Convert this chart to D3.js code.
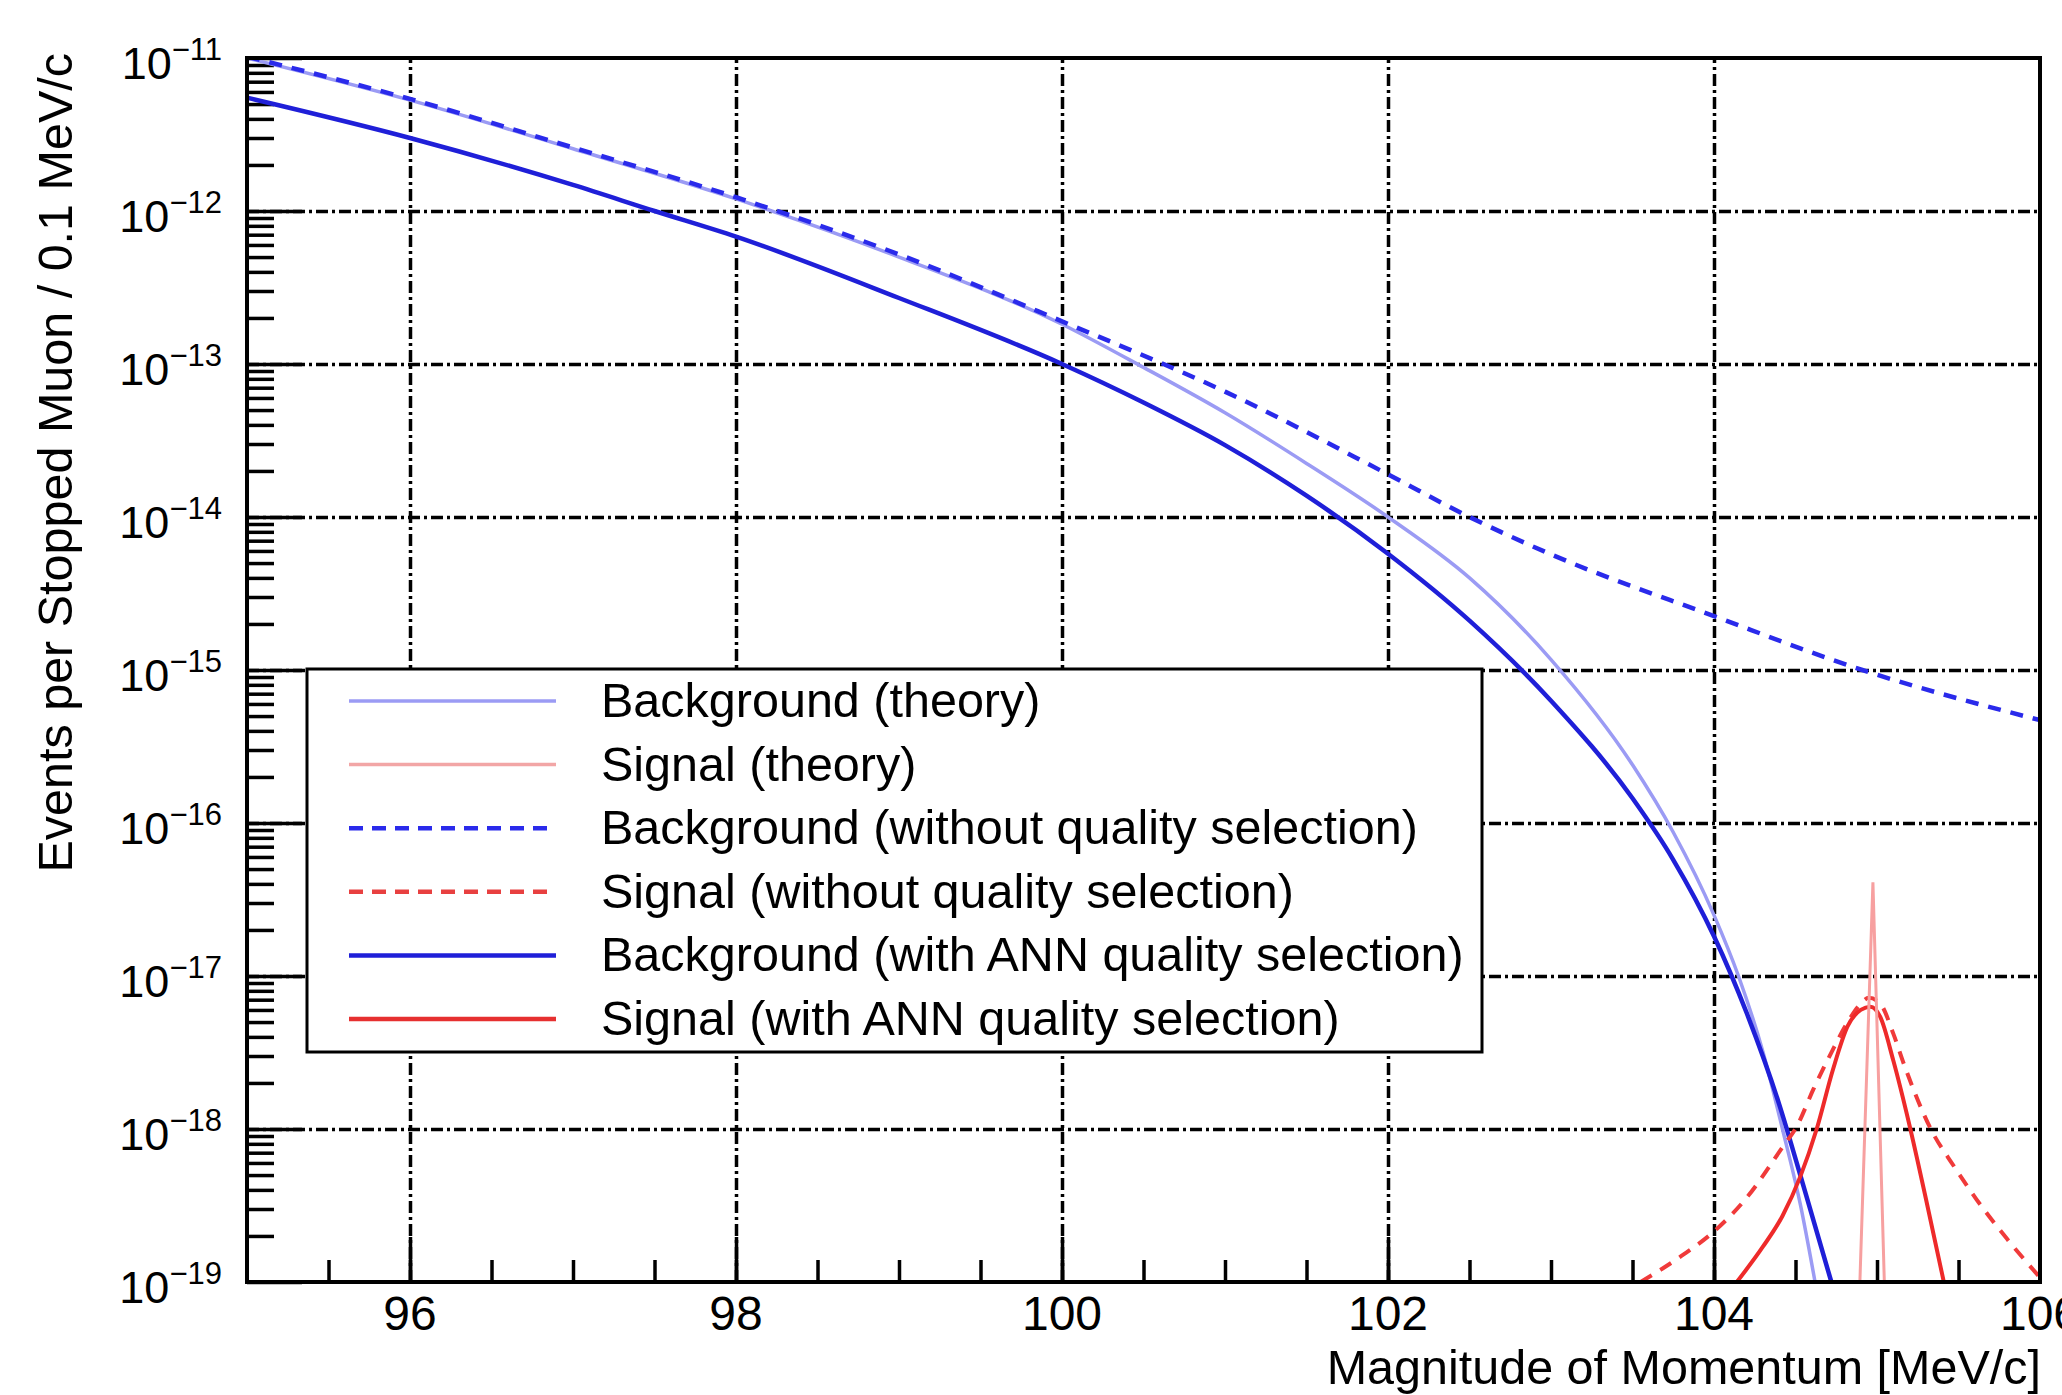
<!DOCTYPE html>
<html>
<head>
<meta charset="utf-8">
<script src="https://cdn.jsdelivr.net/npm/d3@7"></script>
<style>
  body { margin: 0; background: #fff; }
  text { font-family: "Liberation Sans", Arial, Helvetica, sans-serif; fill: #000; }
</style>
</head>
<body>
<div id="chart"></div>
<script>
// ---- data ----
const xLabels = [96, 98, 100, 102, 104, 106];
const yDecades = [-11, -12, -13, -14, -15, -16, -17, -18, -19];

// Background (theory)
const bkgTheoryP = [95, 96, 97, 98, 99, 100, 100.5, 101, 101.5, 102, 102.5, 103, 103.5, 103.75, 104, 104.15, 104.3, 104.42, 104.53, 104.62];
const bkgTheoryV = [1.0e-11, 5.3e-12, 2.55e-12, 1.2e-12, 5.0e-13, 1.82e-13, 9.5e-14, 4.8e-14, 2.24e-14, 1.0e-14, 4.0e-15, 1.17e-15, 2.4e-16, 8.7e-17, 2.5e-17, 1.0e-17, 3.2e-18, 1.0e-18, 3.2e-19, 1.0e-19];

// Signal (theory)
const sigTheoryP = [104.895, 104.975, 105.045];
const sigTheoryV = [1.0e-19, 4.1e-17, 1.0e-19];

// Background (without quality selection)
const bkgNoSelP = [95, 96, 97, 98, 99, 100, 101, 102, 102.5, 103, 104, 104.91, 106];
const bkgNoSelV = [1.02e-11, 5.4e-12, 2.6e-12, 1.23e-12, 5.2e-13, 1.9e-13, 6.6e-14, 1.9e-14, 1.0e-14, 5.7e-15, 2.25e-15, 1.0e-15, 4.7e-16];

// Signal (without quality selection)
const sigNoSelP = [103.55, 103.8, 104.0, 104.2, 104.42, 104.51, 104.61, 104.72, 104.82, 104.9, 104.95, 105.02, 105.1, 105.17, 105.33, 105.47, 105.61, 105.8, 106.0];
const sigNoSelV = [1.0e-19, 1.48e-19, 2.14e-19, 3.55e-19, 7.6e-19, 1.05e-18, 1.82e-18, 3.16e-18, 5.0e-18, 6.6e-18, 7.2e-18, 6.6e-18, 4.2e-18, 2.57e-18, 1.0e-18, 5.75e-19, 3.47e-19, 1.9e-19, 1.07e-19];

// Background (with ANN quality selection)
const bkgAnnP = [95, 96, 97, 97.5, 98, 99, 100, 100.5, 101, 101.5, 102, 102.5, 103, 103.5, 103.75, 104, 104.2, 104.4, 104.55, 104.72];
const bkgAnnV = [5.5e-12, 3.0e-12, 1.48e-12, 1.0e-12, 6.8e-13, 2.7e-13, 1.0e-13, 5.6e-14, 2.95e-14, 1.38e-14, 5.75e-15, 2.1e-15, 6.3e-16, 1.45e-16, 5.75e-17, 1.82e-17, 5.75e-18, 1.45e-18, 4.2e-19, 1.0e-19];

// Signal (with ANN quality selection)
const sigAnnP = [104.14, 104.3, 104.42, 104.53, 104.63, 104.73, 104.82, 104.9, 104.96, 105.02, 105.1, 105.2, 105.3, 105.41];
const sigAnnV = [1.0e-19, 1.7e-19, 2.7e-19, 4.9e-19, 1.0e-18, 2.45e-18, 4.7e-18, 6.0e-18, 6.3e-18, 5.4e-18, 2.8e-18, 1.05e-18, 3.5e-19, 1.0e-19];

const legendLabels = [
  'Background (theory)',
  'Signal (theory)',
  'Background (without quality selection)',
  'Signal (without quality selection)',
  'Background (with ANN quality selection)',
  'Signal (with ANN quality selection)'
];

// ---- layout ----
const W = 2062, H = 1395;
const L = 247, R = 2040, T = 58, B = 1282;
const FS = 48.5;

const svg = d3.select('#chart').append('svg')
  .attr('width', W).attr('height', H);
svg.append('rect').attr('width', W).attr('height', H).attr('fill', '#fff');

const x = d3.scaleLinear().domain([95, 106]).range([L, R]);
const y = d3.scaleLog().domain([1e-19, 1e-11]).range([B, T]);

const gridDash = '12,4,3,4';

// vertical grid
const gx = svg.append('g').attr('transform', `translate(0,${B})`)
  .call(d3.axisTop(x).tickValues(xLabels.slice(0, -1)).tickSize(B - T).tickFormat(''));
gx.select('.domain').remove();
gx.selectAll('line').attr('stroke', '#000').attr('stroke-width', 3.5).attr('stroke-dasharray', gridDash);

// horizontal grid
const gy = svg.append('g').attr('transform', `translate(${L},0)`)
  .call(d3.axisRight(y).tickValues(yDecades.slice(1, -1).map(d => Math.pow(10, d))).tickSize(R - L).tickFormat(''));
gy.select('.domain').remove();
gy.selectAll('line').attr('stroke', '#000').attr('stroke-width', 3.5).attr('stroke-dasharray', gridDash);

// minor / major ticks on y (pointing inward)
const minorY = [];
yDecades.slice(1).forEach(d => { for (let k = 2; k <= 9; k++) minorY.push(k * Math.pow(10, d)); });
const tyMin = svg.append('g').attr('transform', `translate(${L},0)`)
  .call(d3.axisRight(y).tickValues(minorY).tickSize(27).tickFormat(''));
const tyMaj = svg.append('g').attr('transform', `translate(${L},0)`)
  .call(d3.axisRight(y).tickValues(yDecades.map(d => Math.pow(10, d))).tickSize(55).tickFormat(''));

// ticks on x
const minorX = d3.range(95.5, 106, 0.5);
const txMin = svg.append('g').attr('transform', `translate(0,${B})`)
  .call(d3.axisTop(x).tickValues(minorX).tickSize(22).tickFormat(''));
const txMaj = svg.append('g').attr('transform', `translate(0,${B})`)
  .call(d3.axisTop(x).tickValues(xLabels.slice(0, -1)).tickSize(45).tickFormat(''));
[tyMin, tyMaj, txMin, txMaj].forEach(g => {
  g.select('.domain').remove();
  g.selectAll('line').attr('stroke', '#000').attr('stroke-width', 3.5);
});

// ---- curves ----
svg.append('clipPath').attr('id', 'plot')
  .append('rect').attr('x', L).attr('y', T).attr('width', R - L).attr('height', B - T);
const curves = svg.append('g').attr('clip-path', 'url(#plot)');

const series = [
  { p: bkgTheoryP, v: bkgTheoryV, color: '#9b9bf4', w: 3.5, dash: null, curve: d3.curveMonotoneX },
  { p: bkgNoSelP, v: bkgNoSelV, color: '#2a2aeb', w: 4.5, dash: '13,10', curve: d3.curveMonotoneX },
  { p: bkgAnnP, v: bkgAnnV, color: '#1f1fd8', w: 4.5, dash: null, curve: d3.curveMonotoneX },
  { p: sigNoSelP, v: sigNoSelV, color: '#f03a3a', w: 4, dash: '13,10', curve: d3.curveMonotoneX },
  { p: sigAnnP, v: sigAnnV, color: '#ee2a2a', w: 4, dash: null, curve: d3.curveMonotoneX },
  { p: sigTheoryP, v: sigTheoryV, color: '#f7a0a0', w: 3, dash: null, curve: d3.curveLinear }
];

series.forEach(s => {
  const pts = s.p.map((p, i) => [p, s.v[i]]);
  const line = d3.line().x(d => x(d[0])).y(d => y(d[1])).curve(s.curve);
  curves.append('path')
    .attr('d', line(pts))
    .attr('fill', 'none')
    .attr('stroke', s.color)
    .attr('stroke-width', s.w)
    .attr('stroke-dasharray', s.dash);
});

// ---- legend ----
const legendStyles = [
  { color: '#9b9bf4', w: 3.5, dash: null },
  { color: '#f2a6a6', w: 3.5, dash: null },
  { color: '#2a2aeb', w: 4.5, dash: '14,9' },
  { color: '#e84040', w: 4.5, dash: '14,9' },
  { color: '#1f1fd8', w: 4.5, dash: null },
  { color: '#e63030', w: 4.5, dash: null }
];
const lg = svg.append('g');
lg.append('rect').attr('x', 307).attr('y', 669).attr('width', 1175).attr('height', 383)
  .attr('fill', '#fff').attr('stroke', '#000').attr('stroke-width', 3);
legendLabels.forEach((t, i) => {
  const cy = 701 + i * 63.6;
  const st = legendStyles[i];
  lg.append('line').attr('x1', 349).attr('x2', 556).attr('y1', cy).attr('y2', cy)
    .attr('stroke', st.color).attr('stroke-width', st.w).attr('stroke-dasharray', st.dash);
  lg.append('text').attr('x', 601).attr('y', cy + 16).attr('font-size', FS).text(t);
});

// ---- frame ----
svg.append('rect').attr('x', L).attr('y', T).attr('width', R - L).attr('height', B - T)
  .attr('fill', 'none').attr('stroke', '#000').attr('stroke-width', 4);

// ---- tick labels ----
svg.append('g').selectAll('text').data(xLabels).join('text')
  .attr('x', d => x(d)).attr('y', B + 48)
  .attr('text-anchor', 'middle').attr('font-size', 48)
  .text(d => d);

const yl = svg.append('g').selectAll('text').data(yDecades).join('text')
  .attr('x', 222).attr('y', d => y(Math.pow(10, d)) + 21)
  .attr('text-anchor', 'end').attr('font-size', 45);
yl.append('tspan').text('10');
yl.append('tspan').attr('dy', -19).attr('font-size', 31).text(d => '\u2212' + Math.abs(d));

// ---- axis titles ----
svg.append('text').attr('x', 2041).attr('y', 1384)
  .attr('text-anchor', 'end').attr('font-size', FS)
  .text('Magnitude of Momentum [MeV/c]');

svg.append('text').attr('transform', 'translate(72,53) rotate(-90)')
  .attr('text-anchor', 'end').attr('font-size', FS)
  .text('Events per Stopped Muon / 0.1 MeV/c');
</script>
</body>
</html>
